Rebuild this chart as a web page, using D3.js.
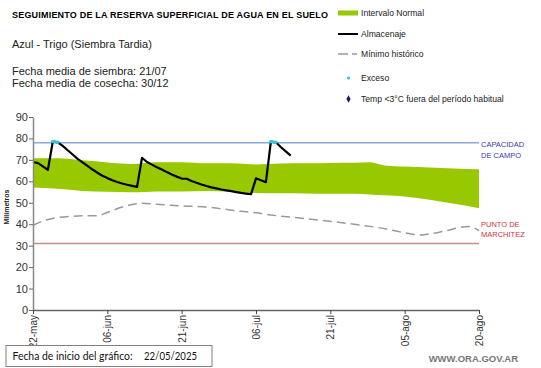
<!DOCTYPE html>
<html>
<head>
<meta charset="utf-8">
<script src="https://cdn.jsdelivr.net/npm/d3@7"></script>
<style>
  html, body { margin: 0; padding: 0; background: #fff; }
  svg { display: block; font-family: "Liberation Sans", Arial, sans-serif; }
</style>
</head>
<body>
<svg id="chart" width="541" height="368"></svg>
<script>
// ---------- DATA ----------
const startDateStr = "2025-05-22";
const endDateStr = "2025-08-20";
const xTickDays = [0, 15, 30, 45, 60, 75, 90];
const xTickLabels = ["22-may", "06-jun", "21-jun", "06-jul", "21-jul", "05-ago", "20-ago"];
const yTickValues = [0, 10, 20, 30, 40, 50, 60, 70, 80, 90];

// Almacenaje: daily values starting 22-may
const almacenaje = [69, 68.5, 67, 65.3, 78.6, 78.2, 76.5, 74.5, 72.5, 70.5,
  68.8, 67.2, 65.5, 64, 62.6, 61.5, 60.5, 59.7, 59, 58.4,
  57.9, 57.4, 71, 69, 67.8, 66.6, 65.5, 64.3, 63.2, 62.2,
  61.3, 61.2, 60.2, 59.3, 58.5, 57.8, 57.2, 56.7, 56.2, 55.8,
  55.4, 55, 54.6, 54.3, 54, 61.4, 60.5, 59.6, 78.5, 78.2,
  76, 74, 72];
const excesoDays = [4, 5, 48, 49];

// Intervalo normal (day offsets from start)
const bandDays  = [0, 5, 10, 15, 20, 25, 30, 35, 40, 45, 50, 55, 60, 65, 68, 71, 75, 80, 85, 90];
const bandUpper = [70.8, 70.8, 69.8, 68.8, 68.1, 68.9, 68.9, 68.4, 68.4, 67.9, 68.3, 68.4, 68.6, 68.7, 68.9, 67.4, 66.9, 66.5, 66, 65.6];
const bandLower = [57.1, 56.5, 55.5, 55.1, 54.9, 55.3, 55.3, 55.5, 55.2, 54.6, 54.4, 54.3, 54.2, 54.2, 53.9, 53.5, 52.9, 51.4, 49.5, 47.5];

// Mínimo histórico
const minDays = [0, 2, 5, 10, 13, 15, 18, 20, 22, 25, 30, 35, 38, 42, 45, 48, 52, 58, 62, 66, 70, 75, 78, 82, 88, 90];
const minVals = [39.5, 41.5, 43.1, 43.9, 44, 45.5, 48, 49.2, 49.8, 49.3, 48.5, 48, 47.2, 46, 45.3, 44.3, 43.3, 41.8, 40.8, 39.6, 38.3, 36, 35, 36.3, 38.9, 37];

const capacidadCampo = 78;
const puntoMarchitez = 31;

// ---------- CHART ----------
const svg = d3.select("#chart");
svg.append("rect").attr("width", 541).attr("height", 368).attr("fill", "#fff");

const parse = d3.timeParse("%Y-%m-%d");
const start = parse(startDateStr), end = parse(endDateStr);
const dayToDate = d => d3.timeDay.offset(start, d);

const x = d3.scaleTime().domain([start, end]).range([33, 479]);
const y = d3.scaleLinear().domain([0, 90]).range([310, 117]);

// band
const bandData = bandDays.map((d, i) => ({ date: dayToDate(d), hi: bandUpper[i], lo: bandLower[i] }));
svg.append("path")
  .datum(bandData)
  .attr("fill", "#97c800")
  .attr("d", d3.area().x(d => x(d.date)).y0(d => y(d.lo)).y1(d => y(d.hi)).curve(d3.curveMonotoneX));

// horizontal reference lines
svg.append("line").attr("x1", x(start)).attr("x2", x(end))
  .attr("y1", y(capacidadCampo)).attr("y2", y(capacidadCampo))
  .attr("stroke", "#8eaad8").attr("stroke-width", 1.3);
svg.append("line").attr("x1", x(start)).attr("x2", x(end))
  .attr("y1", y(puntoMarchitez)).attr("y2", y(puntoMarchitez))
  .attr("stroke", "#c88a8a").attr("stroke-width", 1.5);

// minimo historico
const minData = minDays.map((d, i) => ({ date: dayToDate(d), v: minVals[i] }));
svg.append("path").datum(minData)
  .attr("fill", "none").attr("stroke", "#999").attr("stroke-width", 1.5)
  .attr("stroke-dasharray", "9,5")
  .attr("d", d3.line().x(d => x(d.date)).y(d => y(d.v)).curve(d3.curveMonotoneX));

// almacenaje
const almData = almacenaje.map((v, i) => ({ date: dayToDate(i), v }));
svg.append("path").datum(almData)
  .attr("fill", "none").attr("stroke", "#000").attr("stroke-width", 2.2)
  .attr("stroke-linejoin", "round")
  .attr("d", d3.line().x(d => x(d.date)).y(d => y(d.v)));

// exceso
const excData = excesoDays.map(d => ({ date: dayToDate(d), v: almacenaje[d] }));
for (let i = 0; i < excData.length; i += 2) {
  svg.append("line")
    .attr("x1", x(excData[i].date)).attr("y1", y(excData[i].v))
    .attr("x2", x(excData[i + 1].date)).attr("y2", y(excData[i + 1].v))
    .attr("stroke", "#33c6d6").attr("stroke-width", 2.6);
}
svg.selectAll("circle.exc").data(excData).enter().append("circle")
  .attr("class", "exc")
  .attr("cx", d => x(d.date)).attr("cy", d => y(d.v)).attr("r", 1.8)
  .attr("fill", "#33c6d6");

// axes
const yAxis = svg.append("g").attr("transform", "translate(33,0)")
  .call(d3.axisLeft(y).tickValues(yTickValues).tickSize(4).tickSizeOuter(0));
yAxis.select(".domain").attr("stroke", "#888").attr("stroke-width", 1.5);
yAxis.selectAll(".tick line").attr("stroke", "#666");
yAxis.selectAll(".tick text").attr("font-size", 11).attr("fill", "#333")
  .attr("font-family", "Liberation Sans, Arial, sans-serif").attr("x", -5);

const xAxis = svg.append("g").attr("transform", "translate(0,310)")
  .call(d3.axisBottom(x).tickValues(xTickDays.map(dayToDate))
    .tickFormat((d, i) => xTickLabels[i]).tickSize(4).tickSizeOuter(0));
xAxis.select(".domain").attr("stroke", "#666").attr("stroke-width", 1.5);
xAxis.selectAll(".tick line").attr("stroke", "#444");
xAxis.selectAll(".tick text")
  .attr("font-size", 10).attr("fill", "#333")
  .attr("font-family", "Liberation Sans, Arial, sans-serif")
  .attr("transform", "rotate(-90)")
  .attr("text-anchor", "end")
  .attr("x", -5).attr("y", 0).attr("dy", "0.35em");

// y axis title
svg.append("text").attr("transform", "translate(9,207) rotate(-90)")
  .attr("text-anchor", "middle").attr("font-size", 7).attr("font-weight", "bold")
  .attr("fill", "#222").text("Milímetros");

// reference line labels
const refLbl = (txt, yy, col) => svg.append("text").attr("x", 481).attr("y", yy)
  .attr("font-size", 7.5).attr("fill", col).text(txt);
refLbl("CAPACIDAD", 147, "#3a3aa8");
refLbl("DE  CAMPO", 157.5, "#3a3aa8");
refLbl("PUNTO  DE", 227, "#cc3344");
refLbl("MARCHITEZ", 237, "#cc3344");

// titles
svg.append("text").attr("x", 12).attr("y", 18).attr("font-size", 9).attr("font-weight", "bold")
  .attr("fill", "#000").attr("textLength", 316).attr("lengthAdjust", "spacing")
  .text("SEGUIMIENTO DE LA RESERVA SUPERFICIAL DE AGUA EN EL SUELO");
svg.append("text").attr("x", 12).attr("y", 48).attr("font-size", 11).attr("fill", "#222")
  .text("Azul - Trigo (Siembra Tardia)");
svg.append("text").attr("x", 12).attr("y", 75).attr("font-size", 11).attr("fill", "#222")
  .text("Fecha media de siembra: 21/07");
svg.append("text").attr("x", 12).attr("y", 87).attr("font-size", 11).attr("fill", "#222")
  .text("Fecha media de cosecha: 30/12");

// legend
const lg = svg.append("g");
lg.append("rect").attr("x", 338).attr("y", 10.5).attr("width", 20).attr("height", 5).attr("fill", "#97c800");
lg.append("line").attr("x1", 338).attr("x2", 358).attr("y1", 34).attr("y2", 34).attr("stroke", "#000").attr("stroke-width", 2);
lg.append("line").attr("x1", 338).attr("x2", 357).attr("y1", 54).attr("y2", 54)
  .attr("stroke", "#999").attr("stroke-width", 1.5).attr("stroke-dasharray", "10,4,5,0");
lg.append("circle").attr("cx", 348.5).attr("cy", 78).attr("r", 1.6).attr("fill", "#33c6d6");
lg.append("path").attr("d", d3.symbol().type(d3.symbolDiamond).size(16)())
  .attr("transform", "translate(348.5,99)").attr("fill", "#1a1a8c");
const legTxt = (txt, yy) => lg.append("text").attr("x", 361).attr("y", yy).attr("dy", "0.35em")
  .attr("font-size", 8.6).attr("fill", "#222").text(txt);
legTxt("Intervalo Normal", 13);
legTxt("Almacenaje", 34);
legTxt("Mínimo histórico", 54);
legTxt("Exceso", 77.5);
legTxt("Temp <3°C fuera del período habitual", 99);

// bottom box
svg.append("rect").attr("x", 6).attr("y", 345.5).attr("width", 206).attr("height", 21)
  .attr("fill", "#fff").attr("stroke", "#8c7b7b").attr("stroke-width", 1);
svg.append("text").attr("x", 12.5).attr("y", 360).attr("font-size", 11).attr("fill", "#111")
  .attr("font-family", "Lato, Open Sans, sans-serif")
  .attr("textLength", 120).attr("lengthAdjust", "spacingAndGlyphs")
  .text("Fecha de inicio del gráfico:");
svg.append("text").attr("x", 144).attr("y", 360).attr("font-size", 11).attr("fill", "#111")
  .attr("font-family", "Lato, Open Sans, sans-serif")
  .attr("textLength", 53).attr("lengthAdjust", "spacingAndGlyphs")
  .text("22/05/2025");

svg.append("text").attr("x", 518).attr("y", 362).attr("text-anchor", "end")
  .attr("font-size", 9.5).attr("font-weight", "bold").attr("fill", "#777")
  .text("WWW.ORA.GOV.AR");
</script>
</body>
</html>
